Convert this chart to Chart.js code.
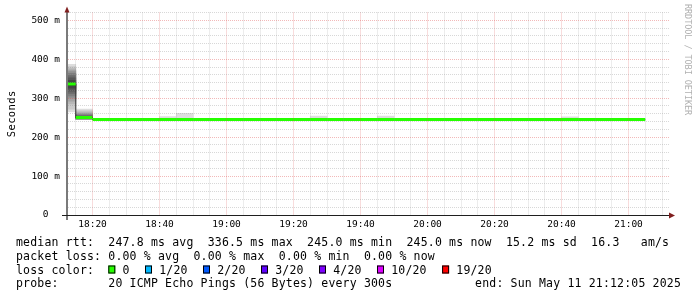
<!DOCTYPE html>
<html>
<head>
<meta charset="utf-8">
<script src="https://cdn.jsdelivr.net/npm/chart.js@4.4.1/dist/chart.umd.min.js"></script>
<style>
  html, body { margin: 0; padding: 0; background: #fff; }
  canvas { display: block; }
</style>
</head>
<body>
<canvas id="c" width="697" height="297"></canvas>
<script>
// smokeping 3h graph, 20 pings every 300s; each value belongs to the 5 min ending at that time
const rangeStart = '18:12:05';
const rangeEnd = '21:12:05';
const intervalEnds = ['18:15', '18:20', '18:25', '18:30', '18:35', '18:40', '18:45', '18:50', '18:55',
  '19:00', '19:05', '19:10', '19:15', '19:20', '19:25', '19:30', '19:35', '19:40', '19:45', '19:50', '19:55',
  '20:00', '20:05', '20:10', '20:15', '20:20', '20:25', '20:30', '20:35', '20:40', '20:45', '20:50', '20:55',
  '21:00', '21:05'];
const medianRtt = [336.5, 250.5, 245.0, 245.0, 245.0, 245.0, 245.0, 245.0, 245.0,
  245.0, 245.0, 245.0, 245.0, 245.0, 245.0, 245.0, 245.0, 245.0, 245.0, 245.0, 245.0,
  245.0, 245.0, 245.0, 245.0, 245.0, 245.0, 245.0, 245.0, 245.0, 245.0, 245.0, 245.0,
  245.0, 245.0];
// sorted ping times (ms) for the intervals that show smoke
const smokePings = {
  '18:15': [265, 272, 285, 292, 300, 306, 312, 318, 326, 333, 340, 346, 352, 358, 364, 368, 372, 376, 381, 387],
  '18:20': [245, 245, 246, 246, 247, 247, 248, 249, 250, 250, 251, 252, 253, 255, 257, 259, 262, 265, 268, 272],
  '18:45': [245, 245, 245, 245, 245, 245, 245, 245, 245, 245, 245, 245, 245, 245, 245, 245, 245, 245, 245, 253],
  '18:50': [245, 245, 245, 245, 245, 245, 245, 245, 245, 245, 245, 245, 245, 245, 245, 245, 245, 245, 245, 261],
  '19:20': [245, 245, 245, 245, 245, 245, 245, 245, 245, 245, 245, 245, 245, 245, 245, 245, 245, 245, 245, 248],
  '19:25': [245, 245, 245, 245, 245, 245, 245, 245, 245, 245, 245, 245, 245, 245, 245, 245, 245, 245, 245, 248],
  '19:30': [245, 245, 245, 245, 245, 245, 245, 245, 245, 245, 245, 245, 245, 245, 245, 245, 245, 245, 245, 254],
  '19:45': [245, 245, 245, 245, 245, 245, 245, 245, 245, 245, 245, 245, 245, 245, 245, 245, 245, 245, 245, 248],
  '19:50': [245, 245, 245, 245, 245, 245, 245, 245, 245, 245, 245, 245, 245, 245, 245, 245, 245, 245, 245, 254],
  '19:55': [245, 245, 245, 245, 245, 245, 245, 245, 245, 245, 245, 245, 245, 245, 245, 245, 245, 247, 248, 248],
  '20:40': [245, 245, 245, 245, 245, 245, 245, 245, 245, 245, 245, 245, 245, 245, 245, 245, 245, 245, 245, 248],
  '20:45': [245, 245, 245, 245, 245, 245, 245, 245, 245, 245, 245, 245, 245, 245, 245, 245, 245, 245, 245, 252]
};
const xTickLabels = ['18:20', '18:40', '19:00', '19:20', '19:40', '20:00', '20:20', '20:40', '21:00'];
const yTickValues = [0, 100, 200, 300, 400, 500];
const yTickLabels = ['0  ', '100 m', '200 m', '300 m', '400 m', '500 m'];
const lossLabels = ['0', '1/20', '2/20', '3/20', '4/20', '10/20', '19/20'];
const lossColors = ['#26ff00', '#00b8ff', '#0059ff', '#5e00ff', '#7e00ff', '#dd00ff', '#ff0000'];
const legendLines = [
  'median rtt:  247.8 ms avg  336.5 ms max  245.0 ms min  245.0 ms now  15.2 ms sd  16.3   am/s',
  'packet loss: 0.00 % avg  0.00 % max  0.00 % min  0.00 % now',
  'loss color:',
  'probe:       20 ICMP Echo Pings (56 Bytes) every 300s'
];
const endText = 'end: Sun May 11 21:12:05 2025';

const STEP = 5;
const MONO = '"DejaVu Sans Mono"';
const toMin = s => { const p = s.split(':').map(Number); return p[0] * 60 + p[1] + (p[2] || 0) / 60; };
const xMin = toMin(rangeStart), xMax = toMin(rangeEnd);
const ends = intervalEnds.map(toMin);
const xLabelAt = {};
xTickLabels.forEach(l => { xLabelAt[toMin(l)] = l; });

// smoke: band k spans ping k .. ping n-1-k, lighter outside, darker toward the median
const bandGreys = [221, 202, 183, 164, 145, 126, 107, 88, 69, 50];
const smokeSets = bandGreys.map((g, k) => ({
  type: 'bar',
  data: Object.entries(smokePings)
    .filter(([, p]) => p[p.length - 1 - k] > p[k])
    .map(([end, p]) => ({ x: toMin(end) - STEP / 2, y: [p[k], p[p.length - 1 - k]] })),
  backgroundColor: `rgb(${g},${g},${g})`,
  borderWidth: 0,
  grouped: false,
  categoryPercentage: 1,
  barPercentage: 1,
  order: 30 - k
}));

const medianStep = {
  type: 'line',
  data: ends.map((e, i) => ({ x: e - STEP, y: medianRtt[i] }))
    .concat([{ x: ends[ends.length - 1], y: medianRtt[medianRtt.length - 1] }]),
  stepped: 'before',
  borderColor: '#202020',
  borderWidth: 1,
  pointRadius: 0,
  order: 2
};

const medianLoss = {
  type: 'line',
  data: ends.flatMap((e, i) => [{ x: e - STEP, y: medianRtt[i] }, { x: e, y: medianRtt[i] }, { x: e, y: null }]),
  borderColor: lossColors[0],
  borderWidth: 3,
  borderCapStyle: 'butt',
  pointRadius: 0,
  spanGaps: false,
  order: 1
};

const MAJOR = 'rgba(222,79,79,0.4)';
const MINOR = 'rgba(143,143,143,0.35)';

function drawMono(ctx, text, x, y, pitch) {
  for (let i = 0; i < text.length; i++) ctx.fillText(text[i], x + i * pitch, y);
}

const decor = {
  id: 'decor',
  afterDraw(chart) {
    const { ctx, chartArea: a } = chart;
    ctx.save();
    // axes
    ctx.fillStyle = '#7a7a7a';
    ctx.fillRect(a.left, a.top - 2, 2, a.bottom - a.top + 7);
    ctx.fillStyle = '#1f1f1f';
    ctx.fillRect(a.left - 4, a.bottom, a.right - a.left + 5, 1);
    // arrows
    ctx.fillStyle = '#801f1f';
    ctx.beginPath();
    ctx.moveTo(a.left + 1, a.top - 6); ctx.lineTo(a.left + 3.5, a.top); ctx.lineTo(a.left - 1.5, a.top);
    ctx.closePath(); ctx.fill();
    ctx.beginPath();
    ctx.moveTo(a.right + 6, a.bottom + 0.5); ctx.lineTo(a.right, a.bottom - 2.5); ctx.lineTo(a.right, a.bottom + 3.5);
    ctx.closePath(); ctx.fill();

    ctx.fillStyle = '#000';
    ctx.textAlign = 'left';
    ctx.textBaseline = 'alphabetic';
    // y title
    ctx.save();
    ctx.font = '10.5px ' + MONO;
    ctx.translate(15, (a.top + a.bottom) / 2);
    ctx.rotate(-Math.PI / 2);
    drawMono(ctx, 'Seconds', -23.5, 0, 6.7);
    ctx.restore();
    // watermark
    ctx.save();
    ctx.font = '8.5px ' + MONO;
    ctx.fillStyle = '#b0b0b0';
    ctx.translate(685, 4);
    ctx.rotate(Math.PI / 2);
    drawMono(ctx, 'RRDTOOL / TOBI OETIKER', 0, 0, 5.05);
    ctx.restore();

    // legend
    const pitch = 7.1, lx = 16, base = [245.5, 259.5, 273.5, 287];
    ctx.font = '11.5px ' + MONO;
    legendLines.forEach((t, i) => drawMono(ctx, t, lx, base[i], pitch));
    let bx = lx + 13 * pitch;
    lossLabels.forEach((l, i) => {
      ctx.fillStyle = lossColors[i];
      ctx.fillRect(bx, base[2] - 8, 7, 8);
      ctx.strokeStyle = '#000';
      ctx.lineWidth = 1;
      ctx.strokeRect(bx + 0.5, base[2] - 7.5, 6, 7);
      ctx.fillStyle = '#000';
      drawMono(ctx, l, bx + 2 * pitch, base[2], pitch);
      bx += (2 + l.length + 2) * pitch + 1.2;
    });
    drawMono(ctx, endText, 681 - endText.length * pitch, base[3], pitch);
    ctx.restore();
  }
};

new Chart(document.getElementById('c'), {
  type: 'bar',
  data: { datasets: [...smokeSets, medianStep, medianLoss] },
  plugins: [decor],
  options: {
    responsive: false,
    animation: false,
    devicePixelRatio: 1,
    layout: { padding: { top: 12.5, right: 28, bottom: 62, left: 0 } },
    plugins: { legend: { display: false }, tooltip: { enabled: false } },
    scales: {
      x: {
        type: 'linear',
        min: xMin,
        max: xMax,
        offset: false,
        afterBuildTicks: s => {
          const t = [];
          for (let v = Math.ceil(xMin / STEP) * STEP; v <= xMax; v += STEP) t.push({ value: v });
          s.ticks = t;
        },
        afterFit: s => { s.height = 20; },
        grid: {
          offset: false,
          z: 1,
          drawTicks: false,
          lineWidth: 1,
          color: c => (c.tick && c.tick.value % 20 === 0 ? MAJOR : MINOR)
        },
        border: { display: false, dash: [1, 1] },
        ticks: {
          autoSkip: false,
          maxRotation: 0,
          minRotation: 0,
          padding: 4,
          color: '#000',
          font: { family: MONO, size: 9.5 },
          callback: v => xLabelAt[v] || ''
        }
      },
      y: {
        type: 'linear',
        min: 0,
        max: 520,
        afterBuildTicks: s => {
          const t = [];
          for (let v = 0; v <= 520; v += 20) t.push({ value: v });
          s.ticks = t;
        },
        afterFit: s => { s.width = 66; },
        grid: {
          z: 1,
          drawTicks: false,
          lineWidth: 1,
          color: c => (c.tick && c.tick.value % 100 === 0 ? MAJOR : MINOR)
        },
        border: { display: false, dash: [1, 1] },
        ticks: {
          autoSkip: false,
          padding: 6,
          color: '#000',
          font: { family: MONO, size: 9.5 },
          callback: v => {
            const i = yTickValues.indexOf(v);
            return i < 0 ? '' : yTickLabels[i];
          }
        }
      }
    }
  }
});
</script>
</body>
</html>
